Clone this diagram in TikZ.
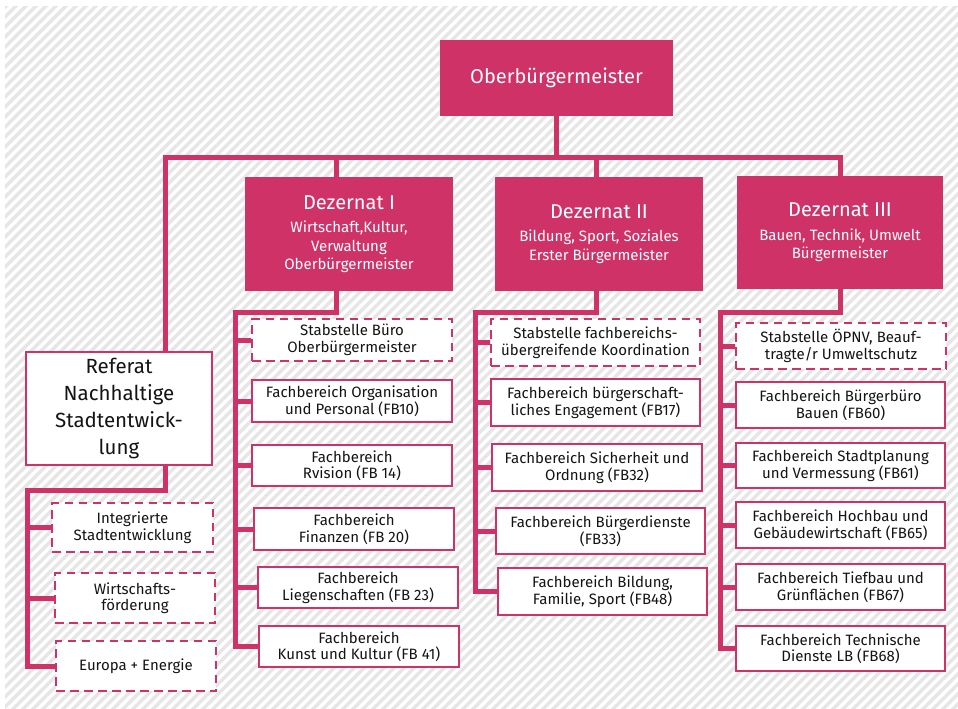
\documentclass[tikz,border=0pt]{standalone}
\usepackage{fontspec}
\setmainfont{Fira Sans}
\usetikzlibrary{calc}
\definecolor{mag}{RGB}{207,50,103}
\definecolor{hatchgray}{RGB}{230,230,230}
\definecolor{txt}{RGB}{20,20,20}
\tikzset{
  conn/.style={draw=mag, line width=5pt, line join=miter},
  hatchline/.style={draw=hatchgray, line width=3.4pt},
  topbox/.style={fill=mag, draw=none, text=white, inner sep=0pt, align=center,
    font=\fontsize{15}{18.5}\selectfont},
  fbox/.style={draw=mag, line width=2.8pt, fill=white, text=txt, inner sep=0pt,
    align=center, font=\fontsize{15}{16.5}\selectfont},
  dbox/.style={fbox, dash pattern=on 8.5pt off 5.5pt},
  refbox/.style={draw=mag, line width=2.8pt, fill=white, text=txt, inner sep=0pt,
    align=center, font=\fontsize{20.5}{27}\selectfont},
}
\newcommand{\dtitle}[1]{{\fontsize{20}{24}\selectfont #1}\\[5pt]}
\begin{document}
\begin{tikzpicture}[x=1pt,y=-1pt]
\useasboundingbox (0,0) rectangle (958,709);
\fill[white] (0,0) rectangle (958,709);
\begin{scope}
  \clip (5,7) rectangle (958,709);
  \foreach \i in {-710,-700,...,960} \draw[hatchline] (\i,712) -- ++(708,-708);
\end{scope}

% coordinates
\coordinate (bus) at (0,157);
\coordinate (rx) at (165,0);
\coordinate (c1) at (235,312);
\coordinate (c2) at (475,312);
\coordinate (c3) at (720,312);
\coordinate (c0) at (27,490);

% top
\node[topbox, minimum width=233pt, minimum height=76pt, font=\fontsize{20}{24}\selectfont] (ob) at (556.5,78) {Oberbürgermeister};

\node[topbox, minimum width=208pt, minimum height=114pt] (d1) at (349,234)
  {\dtitle{Dezernat I}Wirtschaft,Kultur,\\Verwaltung\\Oberbürgermeister};
\node[topbox, minimum width=208pt, minimum height=114pt] (d2) at (599,234)
  {\dtitle{Dezernat II}Bildung, Sport, Soziales\\Erster Bürgermeister};
\node[topbox, minimum width=206pt, minimum height=113pt] (d3) at (840,232.5)
  {\dtitle{Dezernat III}Bauen, Technik, Umwelt\\Bürgermeister};

\node[refbox, minimum width=186pt, minimum height=113pt] (ref) at (119,408.5)
  {Referat\\Nachhaltige\\Stadtentwick-\\lung};

% column 1
\node[dbox, minimum width=200pt, minimum height=42pt] (k1) at (352,340) {Stabstelle Büro\\Oberbürgermeister};
\node[fbox, minimum width=200pt, minimum height=42pt] (k2) at (352,401) {Fachbereich Organisation\\und Personal (FB10)};
\node[fbox, minimum width=200pt, minimum height=41pt] (k3) at (352,465.5) {Fachbereich\\Rvision (FB 14)};
\node[fbox, minimum width=200pt, minimum height=42pt] (k4) at (354,529) {Fachbereich\\Finanzen (FB 20)};
\node[fbox, minimum width=200pt, minimum height=41pt] (k5) at (358,587.5) {Fachbereich\\Liegenschaften (FB 23)};
\node[fbox, minimum width=200pt, minimum height=41pt] (k6) at (359,646.5) {Fachbereich\\Kunst und Kultur (FB 41)};

% column 2
\node[dbox, minimum width=209pt, minimum height=47pt] (m1) at (595.5,342.5) {Stabstelle fachbereichs-\\übergreifende Koordination};
\node[fbox, minimum width=209pt, minimum height=47pt] (m2) at (595.5,402.5) {Fachbereich bürgerschaft-\\liches Engagement (FB17)};
\node[fbox, minimum width=210pt, minimum height=47pt] (m3) at (597,467.5) {Fachbereich Sicherheit und\\Ordnung (FB32)};
\node[fbox, minimum width=209pt, minimum height=46pt] (m4) at (600.5,531) {Fachbereich Bürgerdienste\\(FB33)};
\node[fbox, minimum width=209pt, minimum height=47pt] (m5) at (602.5,591.5) {Fachbereich Bildung,\\Familie, Sport (FB48)};

% column 3
\node[dbox, minimum width=210pt, minimum height=46pt] (n1) at (841,346) {Stabstelle ÖPNV, Beauf-\\tragte/r Umweltschutz};
\node[fbox, minimum width=209pt, minimum height=46pt] (n2) at (840.5,405) {Fachbereich Bürgerbüro\\Bauen (FB60)};
\node[fbox, minimum width=209pt, minimum height=45pt] (n3) at (840.5,465.5) {Fachbereich Stadtplanung\\und Vermessung (FB61)};
\node[fbox, minimum width=209pt, minimum height=46pt] (n4) at (840.5,525) {Fachbereich Hochbau und\\Gebäudewirtschaft (FB65)};
\node[fbox, minimum width=209pt, minimum height=46pt] (n5) at (840.5,587) {Fachbereich Tiefbau und\\Grünflächen (FB67)};
\node[fbox, minimum width=209pt, minimum height=45pt] (n6) at (840.5,648.5) {Fachbereich Technische\\Dienste LB (FB68)};

% referat subunits
\node[dbox, minimum width=161pt, minimum height=49pt] (r1) at (132.5,527.5) {Integrierte\\Stadtentwicklung};
\node[dbox, minimum width=160pt, minimum height=50pt] (r2) at (135,598) {Wirtschafts-\\förderung};
\node[dbox, minimum width=160pt, minimum height=50pt] (r3) at (136,666) {Europa + Energie};

% top bus
\draw[conn] (ob.south) -- (ob.south |- bus);
\draw[conn] (rx |- ref.north) -- (rx |- bus) -- (d3.north |- bus) -- (d3.north);
\draw[conn] ($(d1.north)+(-13,0)$) -- ($(d1.north |- bus)+(-13,0)$);
\draw[conn] ($(d2.north)+(-3,0)$) -- ($(d2.north |- bus)+(-3,0)$);

% column 1
\draw[conn] ($(d1.south)+(-13,0)$) -- ($(d1.south |- c1)+(-13,0)$) -- (c1) -- (c1 |- k6.west) -- (k6.west);
\foreach \b in {k1,k2,k3,k4,k5} \draw[conn] (c1 |- \b.west) -- (\b.west);
% column 2
\draw[conn] ($(d2.south)+(-3,0)$) -- ($(d2.south |- c2)+(-3,0)$) -- (c2) -- (c2 |- m5.west) -- (m5.west);
\foreach \b in {m1,m2,m3,m4} \draw[conn] (c2 |- \b.west) -- (\b.west);
% column 3
\draw[conn] (d3.south) -- (d3.south |- c3) -- (c3) -- (c3 |- n6.west) -- (n6.west);
\foreach \b in {n1,n2,n3,n4,n5} \draw[conn] (c3 |- \b.west) -- (\b.west);
% referat
\draw[conn] (rx |- ref.south) -- (rx |- c0) -- (c0) -- (c0 |- r3.west) -- (r3.west);
\foreach \b in {r1,r2} \draw[conn] (c0 |- \b.west) -- (\b.west);
\end{tikzpicture}
\end{document}
